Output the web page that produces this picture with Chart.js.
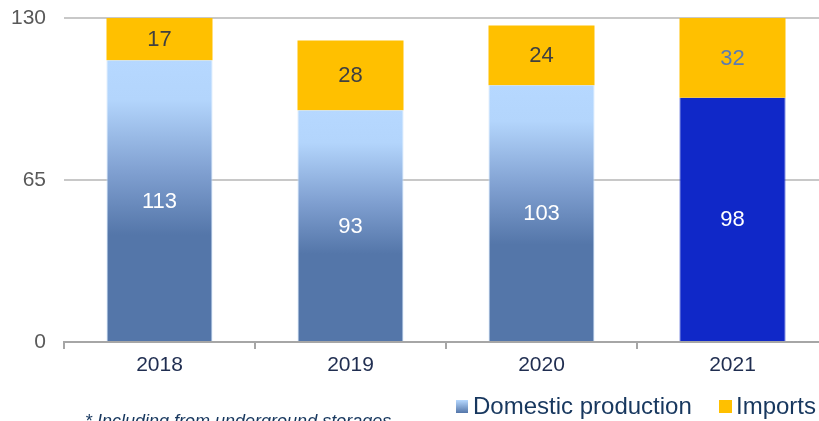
<!DOCTYPE html>
<html>
<head>
<meta charset="utf-8">
<script src="https://cdn.jsdelivr.net/npm/chart.js@4/dist/chart.umd.min.js"></script>
<style>
  html, body { margin: 0; padding: 0; background: #fff; overflow: hidden; }
  #box { width: 830px; height: 421px; }
</style>
</head>
<body>
<div id="box"><canvas id="graficoGas" width="830" height="421"></canvas></div>
<script>
const anni = ['2018', '2019', '2020', '2021'];
const produzione = [113, 93, 103, 98];
const importazioni = [17, 28, 24, 32];
const tickY = [0, 65, 130];

const FONT = '"Liberation Sans", Arial, sans-serif';

// gradiente della produzione interna (chiaro in alto, scuro in basso)
function gradienteBarra(ctx, top, bottom) {
    const g = ctx.createLinearGradient(0, top, 0, bottom);
    g.addColorStop(0, '#b6d8ff');
    g.addColorStop(0.14, '#b3d5fc');
    g.addColorStop(0.4, '#7f9fd0');
    g.addColorStop(0.62, '#5476a9');
    g.addColorStop(1, '#5476a9');
    return g;
}

// etichette dei valori al centro di ogni segmento
const etichette = {
    id: 'etichette',
    afterDatasetsDraw(chart) {
        const ctx = chart.ctx;
        ctx.save();
        ctx.font = '22px ' + FONT;
        ctx.textAlign = 'center';
        ctx.textBaseline = 'middle';
        chart.data.datasets.forEach((ds, di) => {
            chart.getDatasetMeta(di).data.forEach((el, i) => {
                if (di === 0) ctx.fillStyle = '#ffffff';
                else ctx.fillStyle = i === 3 ? '#5b7bb2' : '#404040';
                ctx.fillText(String(ds.data[i]), el.x, (el.y + el.base) / 2 + 1);
            });
        });
        ctx.restore();
    }
};

// legenda e nota in basso
const legendaNota = {
    id: 'legendaNota',
    afterDraw(chart) {
        const ctx = chart.ctx;
        ctx.save();
        ctx.font = '24px ' + FONT;
        ctx.textBaseline = 'middle';
        const yc = 407;
        // Domestic production
        let g = ctx.createLinearGradient(0, yc - 7, 0, yc + 6);
        g.addColorStop(0, '#b6d8ff');
        g.addColorStop(1, '#5476a9');
        ctx.fillStyle = g;
        ctx.fillRect(456, yc - 7, 12, 13);
        ctx.fillStyle = '#17375e';
        ctx.fillText('Domestic production', 473, yc);
        // Imports
        ctx.fillStyle = '#ffc000';
        ctx.fillRect(719, yc - 7, 13, 13);
        ctx.fillStyle = '#17375e';
        ctx.fillText('Imports', 736, yc);
        // nota
        ctx.font = 'italic 18px ' + FONT;
        ctx.textBaseline = 'alphabetic';
        ctx.fillText('* Including from underground storages', 85, 427);
        ctx.restore();
    }
};

new Chart(document.getElementById('graficoGas'), {
    type: 'bar',
    data: {
        labels: anni,
        datasets: [{
            label: 'Domestic production',
            data: produzione,
            backgroundColor: function(context) {
                const i = context.dataIndex;
                if (i === 3) return '#1028c8';
                const chart = context.chart;
                if (!chart.chartArea) return '#7f9fd0';
                const y = chart.scales.y;
                return gradienteBarra(chart.ctx, y.getPixelForValue(produzione[i]), y.getPixelForValue(0));
            },
            borderColor: function(context) {
                return context.dataIndex === 3 ? '#1028c8' : '#c6e0fb';
            },
            borderWidth: { left: 1, right: 1, top: 0, bottom: 0 },
            borderSkipped: false,
            barPercentage: 0.555,
            categoryPercentage: 1
        }, {
            label: 'Imports',
            data: importazioni,
            backgroundColor: '#ffc000',
            borderWidth: 0,
            barPercentage: 0.555,
            categoryPercentage: 1
        }]
    },
    options: {
        responsive: false,
        animation: false,
        layout: { padding: { top: 18, right: 2, left: 0, bottom: 0 } },
        plugins: {
            legend: { display: false },
            tooltip: { enabled: false }
        },
        scales: {
            x: {
                stacked: true,
                offset: true,
                border: { display: true, color: '#a6a6a6', width: 2 },
                grid: { display: true, offset: true, drawOnChartArea: false, drawTicks: true, tickLength: 7, color: '#a6a6a6', lineWidth: 2 },
                ticks: { color: '#1f2d50', font: { family: FONT, size: 21 }, padding: 4 },
                afterFit(scale) { scale.height = 79; }
            },
            y: {
                stacked: true,
                min: 0,
                max: 130,
                border: { display: false },
                grid: { color: '#c8c8c8', lineWidth: 2, drawTicks: false },
                afterBuildTicks(scale) { scale.ticks = tickY.map(v => ({ value: v })); },
                ticks: { color: '#595959', font: { family: FONT, size: 21 }, padding: 18 },
                afterFit(scale) { scale.width = 64; scale.paddingTop = 0; scale.paddingBottom = 0; }
            }
        }
    },
    plugins: [etichette, legendaNota]
});
</script>
</body>
</html>
